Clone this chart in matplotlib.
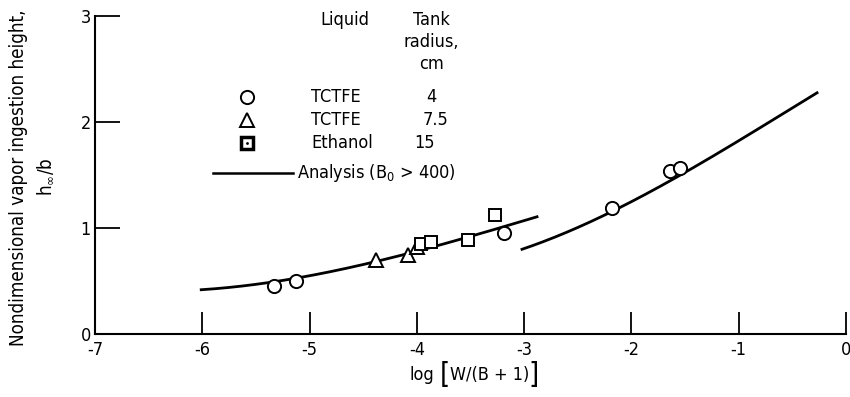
import matplotlib
matplotlib.use("Agg")
import matplotlib.pyplot as plt
import numpy as np

plt.rcParams['font.family'] = ['DejaVu Sans']
plt.rcParams['font.stretch'] = 'condensed'
plt.rcParams['mathtext.fontset'] = 'dejavusans'

# Datos
circ_x = [-5.33, -5.13, -3.19, -2.18, -1.64, -1.55]          # TCTFE, 4 cm
circ_y = [0.45, 0.50, 0.95, 1.19, 1.54, 1.57]
tri_x = [-4.38, -4.08, -4.00]                                # TCTFE, 7.5 cm
tri_y = [0.70, 0.745, 0.82]
sq_x = [-3.96, -3.87, -3.52, -3.27]                          # Ethanol, 15 cm
sq_y = [0.85, 0.87, 0.89, 1.12]

# Curvas de analisis (dos tramos)
an1_x = [-6.01, -5.30, -4.81, -4.30, -4.07, -3.52, -2.88]
an1_y = [0.42, 0.49, 0.59, 0.70, 0.78, 0.90, 1.11]
an2_x = [-3.02, -2.61, -2.18, -1.60, -0.90, -0.27]
an2_y = [0.81, 0.93, 1.17, 1.48, 1.87, 2.28]

xticks = [-7, -6, -5, -4, -3, -2, -1, 0]
yticks = [0, 1, 2, 3]

W, H = 850, 397
fig = plt.figure(figsize=(W/100, H/100), dpi=100)
ax = fig.add_axes([95/W, 1-334/H, (846-95)/W, (334-16)/H])

def px(x, y):                                   # pixeles -> fraccion de figura
    return x/W, 1-y/H

def smooth(xs, ys):
    t = np.linspace(xs[0], xs[-1], 200)
    c = np.polyfit(xs, ys, 3)
    return t, np.polyval(c, t)

for xs, ys in [(an1_x, an1_y), (an2_x, an2_y)]:
    sx, sy = smooth(xs, ys)
    ax.plot(sx, sy, color='black', lw=2.0, zorder=2)

ax.plot(circ_x, circ_y, 'o', ms=9.5, mfc='white', mec='black', mew=1.4, zorder=3)
ax.plot(tri_x, tri_y, '^', ms=10, mfc='white', mec='black', mew=1.4, zorder=3)
ax.plot(sq_x, sq_y, 's', ms=8.5, mfc='white', mec='black', mew=1.4, zorder=3)

ax.set_xlim(-7, 0)
ax.set_ylim(0, 3)
ax.set_xticks(xticks)
ax.set_xticklabels([str(v) for v in xticks])
ax.set_yticks(yticks)
ax.spines['top'].set_visible(False)
ax.spines['right'].set_visible(False)
ax.spines['left'].set_linewidth(1.5)
ax.spines['bottom'].set_linewidth(1.5)
ax.tick_params(axis='x', direction='in', length=16, width=1.3, labelsize=13, pad=5)
ax.tick_params(axis='y', direction='in', length=18, width=1.3, labelsize=13, pad=3)
ax.patch.set_visible(False)

# Etiqueta del eje x con corchetes grandes
fig.text(*px(422, 375), "log", ha='center', va='center', fontsize=13)
fig.text(*px(445, 375), "[", ha='center', va='center', fontsize=21, fontweight='light')
fig.text(*px(490, 375), "W/(B + 1)", ha='center', va='center', fontsize=13)
fig.text(*px(534, 375), "]", ha='center', va='center', fontsize=21, fontweight='light')

fig.text(*px(19, 178), "Nondimensional vapor ingestion height,", rotation=90,
         ha='center', va='center', fontsize=13.5)
fig.text(*px(45, 177), r"h$_\infty$/b", rotation=90, ha='center', va='center', fontsize=13.5)

# Leyenda hecha a mano
fs = 13
fig.text(*px(345, 20), "Liquid", ha='center', va='center', fontsize=fs)
fig.text(*px(431, 20), "Tank", ha='center', va='center', fontsize=fs)
fig.text(*px(431, 42), "radius,", ha='center', va='center', fontsize=fs)
fig.text(*px(431, 64), "cm", ha='center', va='center', fontsize=fs)
rows = [('o', 'TCTFE', '4', 97, 431), ('^', 'TCTFE', '7.5', 120, 436),
        ('s', 'Ethanol', '15', 143, 424)]
for m, name, rad, yy, rx in rows:
    fx, fy = px(247, yy)
    if m == 's':
        fig.lines.append(plt.Line2D([fx], [fy], marker='s', ms=9, mfc='white', mec='black',
                                    mew=2.5, transform=fig.transFigure, figure=fig))
        fig.lines.append(plt.Line2D([fx], [fy], marker='.', ms=2, color='black',
                                    transform=fig.transFigure, figure=fig))
    else:
        fig.lines.append(plt.Line2D([fx], [fy], marker=m, ms=9.5, mfc='white', mec='black',
                                    mew=1.4, transform=fig.transFigure, figure=fig))
    fig.text(*px(311, yy), name, ha='left', va='center', fontsize=fs)
    fig.text(*px(rx, yy), rad, ha='center', va='center', fontsize=fs)
x0, y0 = px(213, 173)
x1, _ = px(293, 173)
fig.lines.append(plt.Line2D([x0, x1], [y0, y0], color='black', lw=1.8,
                            transform=fig.transFigure, figure=fig))
fig.text(*px(297, 173), r"Analysis (B$_0$ > 400)", ha='left', va='center', fontsize=fs)

fig.savefig("out.png", dpi=100)
